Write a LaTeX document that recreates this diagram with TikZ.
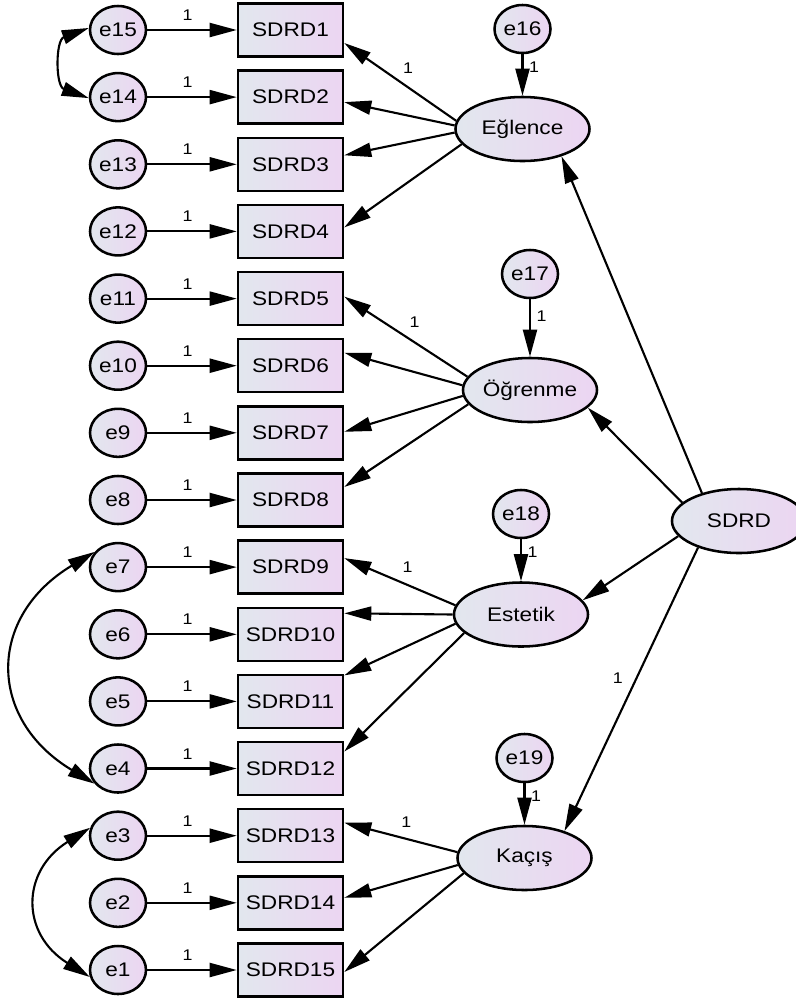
\documentclass[tikz,border=0pt]{standalone}
\usepackage{fontspec}
\setmainfont{Liberation Sans}[FakeStretch=1.15]
\usepackage{tikz}
\usetikzlibrary{arrows.meta,shapes.geometric,calc}
\definecolor{shadeL}{RGB}{226,231,238}
\definecolor{shadeR}{RGB}{236,213,242}

\begin{document}
\begin{tikzpicture}[x=0.025cm,y=-0.025cm]
\tikzstyle{obs}=[rectangle,draw,line width=1.8pt,left color=shadeL,right color=shadeR,minimum width=2.625cm,minimum height=1.325cm,inner sep=0pt,font=\fontsize{14}{16}\selectfont];
\tikzstyle{err}=[ellipse,draw,line width=1.8pt,left color=shadeL,right color=shadeR,minimum width=1.4cm,minimum height=1.2cm,inner sep=0pt,font=\fontsize{14}{16}\selectfont];
\tikzstyle{lat}=[ellipse,draw,line width=1.8pt,left color=shadeL,right color=shadeR,minimum width=3.35cm,minimum height=1.6cm,inner sep=0pt,font=\fontsize{14}{16}\selectfont];
\tikzstyle{reg}=[line width=1.5pt,-{Triangle[length=0.675cm,width=0.35cm]}];
\tikzstyle{cov}=[line width=1.5pt,{Triangle[length=0.675cm,width=0.35cm]}-{Triangle[length=0.675cm,width=0.35cm]}];
\tikzstyle{lab}=[inner sep=1pt,font=\fontsize{11}{11}\selectfont];
\path[use as bounding box,clip] (0,0) rectangle (796,1002);

\node [obs] (s1) at (290.5,30) {SDRD1};
\node [obs] (s2) at (290.5,97.1) {SDRD2};
\node [obs] (s3) at (290.5,164.3) {SDRD3};
\node [obs] (s4) at (290.5,231.4) {SDRD4};
\node [obs] (s5) at (290.5,298.6) {SDRD5};
\node [obs] (s6) at (290.5,365.7) {SDRD6};
\node [obs] (s7) at (290.5,432.8) {SDRD7};
\node [obs] (s8) at (290.5,500) {SDRD8};
\node [obs] (s9) at (290.5,567.1) {SDRD9};
\node [obs] (s10) at (290.5,634.3) {SDRD10};
\node [obs] (s11) at (290.5,701.4) {SDRD11};
\node [obs] (s12) at (290.5,768.5) {SDRD12};
\node [obs] (s13) at (290.5,835.7) {SDRD13};
\node [obs] (s14) at (290.5,902.8) {SDRD14};
\node [obs] (s15) at (290.5,970) {SDRD15};

\node [err] (e15) at (118,30) {e15};
\node [err] (e14) at (118,97.1) {e14};
\node [err] (e13) at (118,164.3) {e13};
\node [err] (e12) at (118,231.4) {e12};
\node [err] (e11) at (118,298.6) {e11};
\node [err] (e10) at (118,365.7) {e10};
\node [err] (e9) at (118,432.8) {e9};
\node [err] (e8) at (118,500) {e8};
\node [err] (e7) at (118,567.1) {e7};
\node [err] (e6) at (118,634.3) {e6};
\node [err] (e5) at (118,701.4) {e5};
\node [err] (e4) at (118,768.5) {e4};
\node [err] (e3) at (118,835.7) {e3};
\node [err] (e2) at (118,902.8) {e2};
\node [err] (e1) at (118,970) {e1};

\node [lat] (eg) at (522.5,129) {Eğlence};
\node [lat] (og) at (530,390) {Öğrenme};
\node [lat] (es) at (521,614.5) {Estetik};
\node [lat] (kc) at (524.5,858) {Kaçış};
\node [lat] (sd) at (739,521) {SDRD};
\node [err] (e16) at (522.5,29) {e16};
\node [err] (e17) at (530,274) {e17};
\node [err] (e18) at (521,514) {e18};
\node [err] (e19) at (524.5,758) {e19};

% errors to items
\draw [reg] (e15) -- node[lab,pos=0.45,above=5pt] {1} (s1);
\draw [reg] (e14) -- node[lab,pos=0.45,above=5pt] {1} (s2);
\draw [reg] (e13) -- node[lab,pos=0.45,above=5pt] {1} (s3);
\draw [reg] (e12) -- node[lab,pos=0.45,above=5pt] {1} (s4);
\draw [reg] (e11) -- node[lab,pos=0.45,above=5pt] {1} (s5);
\draw [reg] (e10) -- node[lab,pos=0.45,above=5pt] {1} (s6);
\draw [reg] (e9) -- node[lab,pos=0.45,above=5pt] {1} (s7);
\draw [reg] (e8) -- node[lab,pos=0.45,above=5pt] {1} (s8);
\draw [reg] (e7) -- node[lab,pos=0.45,above=5pt] {1} (s9);
\draw [reg] (e6) -- node[lab,pos=0.45,above=5pt] {1} (s10);
\draw [reg] (e5) -- node[lab,pos=0.45,above=5pt] {1} (s11);
\draw [reg] (e4) -- node[lab,pos=0.45,above=5pt] {1} (s12);
\draw [reg] (e3) -- node[lab,pos=0.45,above=5pt] {1} (s13);
\draw [reg] (e2) -- node[lab,pos=0.45,above=5pt] {1} (s14);
\draw [reg] (e1) -- node[lab,pos=0.45,above=5pt] {1} (s15);

% covariances
\draw [cov] (e15.176) to[out=200,in=160,looseness=1.3] (e14.182);
\draw [cov] (e7.147) to[out=211,in=149,looseness=1.39] (e4.213);
\draw [cov] (e3.164) to[out=212,in=148,looseness=1.4] (e1.194);

% factors to items
\draw [reg] (eg.173) -- node[lab,pos=0.43,above=8pt] {1} ($(s1.east)+(0,13)$);
\draw [reg] (eg.177) -- ($(s2.east)+(0,5)$);
\draw [reg] (eg.183) -- ($(s3.east)+(0,-9)$);
\draw [reg] (eg.194) -- ($(s4.east)+(0,-4)$);
\draw [reg] (og.168) -- node[lab,pos=0.43,above=9pt] {1} ($(s5.east)+(0,-2)$);
\draw [reg] (og.176) -- ($(s6.east)+(0,-13)$);
\draw [reg] (og.185) -- ($(s7.east)+(0,-1)$);
\draw [reg] (og.193) -- ($(s8.east)+(0,-13)$);
\draw [reg] (es.172) -- node[lab,pos=0.43,above=7pt] {1} ($(s9.east)+(0,-9)$);
\draw [reg] (es.180) -- ($(s10.east)+(0,-21)$);
\draw [reg] (es.188) -- ($(s11.east)+(0,-26)$);
\draw [reg] (es.198) -- ($(s12.east)+(0,-17)$);
\draw [reg] (kc.175) -- node[lab,pos=0.45,above=6pt] {1} ($(s13.east)+(0,-13)$);
\draw [reg] (kc.186) -- ($(s14.east)+(0,-5)$);
\draw [reg] (kc.194) -- ($(s15.east)+(0,2)$);

% disturbances
\draw [reg] (e16) -- node[lab,pos=0.3,right=3pt] {1} (eg);
\draw [reg] (e17) -- node[lab,pos=0.3,right=3pt] {1} (og);
\draw [reg] (e18) -- node[lab,pos=0.3,right=3pt] {1} (es);
\draw [reg] (e19) -- node[lab,pos=0.3,right=3pt] {1} (kc);

% second order
\draw [reg] (sd.143) -- (eg.325);
\draw [reg] (sd.162) -- (og.343);
\draw [reg] (sd.194) -- (es.13);
\draw [reg] (sd.213) -- node[lab,pos=0.46,left=8pt] {1} (kc.34);
\end{tikzpicture}
\end{document}
